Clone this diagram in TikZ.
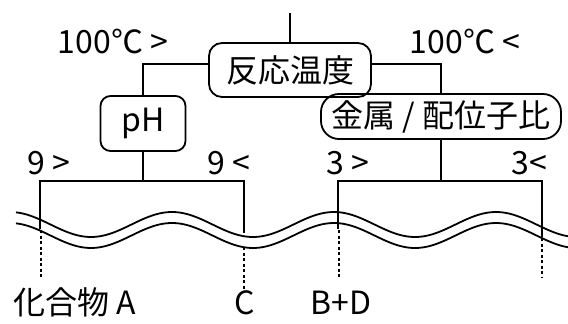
\documentclass[tikz,border=0pt]{standalone}
\usepackage{fontspec}
\setmainfont{Noto Sans CJK JP}
\begin{document}
\begin{tikzpicture}[x=1pt,y=-1pt, line width=1.8pt,
  lbl/.style={font=\fontsize{32}{36}\selectfont, inner sep=0pt},
  boxn/.style={draw, inner sep=0pt, font=\fontsize{32}{36}\selectfont},
  dotl/.style={dash pattern=on 3pt off 2.5pt}]
\useasboundingbox (0,0) rectangle (568,324);
% boxes
\node[boxn, rounded corners=13pt, minimum width=162pt, minimum height=54pt] (temp) at (290,70) {反応温度};
\node[boxn, rounded corners=10pt, minimum width=85pt, minimum height=55pt] (ph) at (143,123.5) {pH};
\node[boxn, rounded corners=18pt, minimum width=240pt, minimum height=45pt] (metal) at (441,116.5) {金属 / 配位子比};
% connectors
\coordinate (topend) at (290,13);
\draw (topend) -- (temp.north);
\draw ([yshift=6pt]temp.west) -| (ph.north);
\draw ([yshift=6pt]temp.east) -| (metal.north);
\coordinate (bA) at (40,181);
\coordinate (bC) at (244,181);
\coordinate (bB) at (338,181);
\coordinate (bR) at (542,181);
\coordinate (sA) at (40,229);
\coordinate (sC) at (244,233);
\coordinate (sB) at (338,229);
\coordinate (sR) at (542,237);
\draw (ph.south) -- (ph.south |- bA);
\draw (metal.south) -- (metal.south |- bB);
\draw (sA) -- (bA) -- (bC) -- (sC);
\draw (sB) -- (bB) -- (bR) -- (sR);
% wave
\draw plot[domain=16:568, samples=160] (\x,{224.5-12.5*cos((\x-172)*2.222222)});
\draw plot[domain=16:568, samples=160] (\x,{235.5-12.5*cos((\x-172)*2.222222)});
% dashed drops
\coordinate (dA1) at (41,230);
\coordinate (dA2) at (41,278);
\coordinate (dC1) at (244,247);
\coordinate (dC2) at (244,292);
\coordinate (dB1) at (339,230);
\coordinate (dB2) at (339,278);
\coordinate (dR1) at (542,238);
\coordinate (dR2) at (542,278);
\draw[dotl] (dA1) -- (dA2);
\draw[dotl] (dC1) -- (dC2);
\draw[dotl] (dB1) -- (dB2);
\draw[dotl] (dR1) -- (dR2);
% labels
\node[lbl, anchor=base] (t1) at (113,53) {100℃ >};
\node[lbl, anchor=base] (t2) at (465,53) {100℃ <};
\node[lbl, anchor=base] (n9a) at (49,174) {9 >};
\node[lbl, anchor=base] (n9b) at (229,174) {9 <};
\node[lbl, anchor=base] (n3a) at (348,174) {3 >};
\node[lbl, anchor=base] (n3b) at (529,174) {3<};
\node[lbl, anchor=base] (la) at (75,314) {化合物 A};
\node[lbl, anchor=base] (lc) at (245,314) {C};
\node[lbl, anchor=base] (lbd) at (341,314) {B+D};
\end{tikzpicture}
\end{document}
